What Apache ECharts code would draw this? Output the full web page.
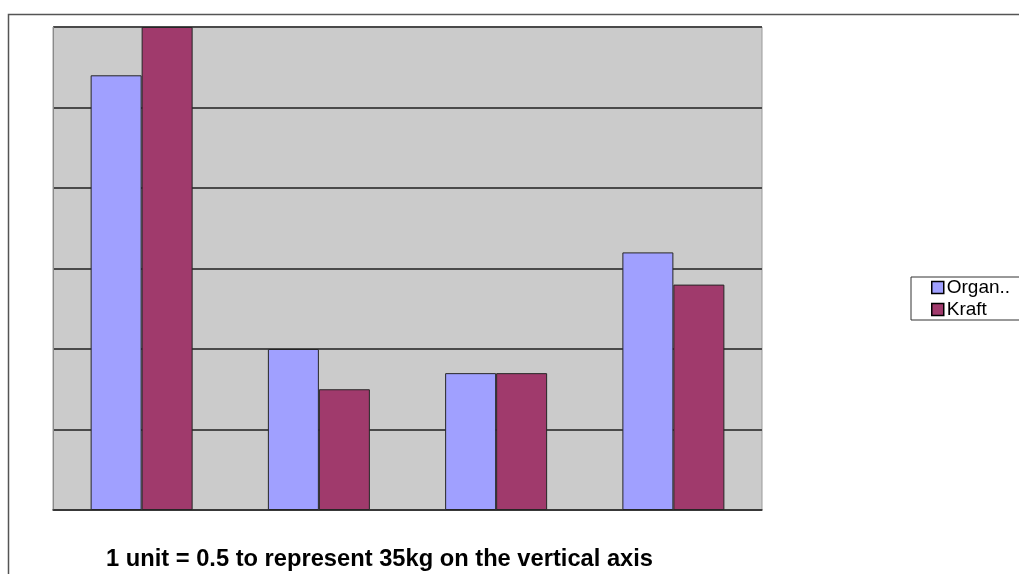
<!DOCTYPE html>
<html>
<head>
<meta charset="utf-8">
<script src="https://cdn.jsdelivr.net/npm/echarts@6/dist/echarts.min.js"></script>
<style>
  html, body { margin: 0; padding: 0; background: #ffffff; }
  #chart { width: 1019px; height: 574px; }
</style>
</head>
<body>
<div id="chart"></div>
<script>
// Four groups, two series (in units of 0.5 = 35kg)
const categories = ['1', '2', '3', '4'];
const seriesNames = ['Organ..', 'Kraft'];
const organValues = [5.4, 2.0, 1.7, 3.2];
const kraftValues = [6.0, 1.5, 1.7, 2.8];
const noteText = '1 unit = 0.5 to represent 35kg on the vertical axis';

const chart = echarts.init(document.getElementById('chart'), null, { renderer: 'canvas' });

const barStyle = (color) => ({ color: color, borderColor: '#262626', borderWidth: 1 });

chart.setOption({
  animation: false,
  backgroundColor: '#ffffff',
  textStyle: { fontFamily: 'Liberation Sans, Arial, sans-serif' },
  grid: {
    left: 53, right: 257, top: 27, bottom: 64,
    show: true,
    backgroundColor: '#cbcbcb',
    borderColor: '#9a9a9a',
    borderWidth: 1
  },
  legend: {
    orient: 'vertical',
    left: 911,
    top: 277,
    padding: [1, 60, 1, 20],
    itemGap: 3,
    itemWidth: 12,
    itemHeight: 12,
    borderColor: '#333',
    borderWidth: 1,
    backgroundColor: '#ffffff',
    borderRadius: 0,
    icon: 'rect',
    itemStyle: { borderColor: '#000', borderWidth: 1.5 },
    textStyle: { fontSize: 19, lineHeight: 18, color: '#000', fontFamily: 'Liberation Sans, Arial, sans-serif', padding: [0, 0, 0, -2] },
    data: seriesNames
  },
  xAxis: {
    type: 'category',
    data: categories,
    axisLine: { show: true, lineStyle: { color: '#333', width: 1.5 } },
    axisTick: { show: false },
    axisLabel: { show: false },
    splitLine: { show: false }
  },
  yAxis: {
    type: 'value',
    min: 0, max: 6, interval: 1,
    axisLine: { show: true, lineStyle: { color: '#8a8a8a', width: 1 } },
    axisTick: { show: false },
    axisLabel: { show: false },
    splitLine: { show: true, lineStyle: { color: '#4a4a4a', width: 2 } }
  },
  series: [
    { name: seriesNames[0], type: 'bar', data: organValues, barWidth: 51, barGap: '0%', itemStyle: barStyle('#a0a0ff') },
    { name: seriesNames[1], type: 'bar', data: kraftValues, barWidth: 51, barGap: '0%', itemStyle: barStyle('#a03a6c') }
  ],
  graphic: [
    {
      type: 'rect',
      shape: { x: 8.5, y: 14.5, width: 1030, height: 600 },
      style: { fill: 'none', stroke: '#555', lineWidth: 1.5 },
      silent: true
    },
    {
      type: 'text',
      left: 106,
      top: 547,
      style: {
        text: noteText,
        font: 'bold 23.7px "Liberation Sans", Arial, sans-serif',
        fill: '#000'
      }
    }
  ]
});
</script>
</body>
</html>
